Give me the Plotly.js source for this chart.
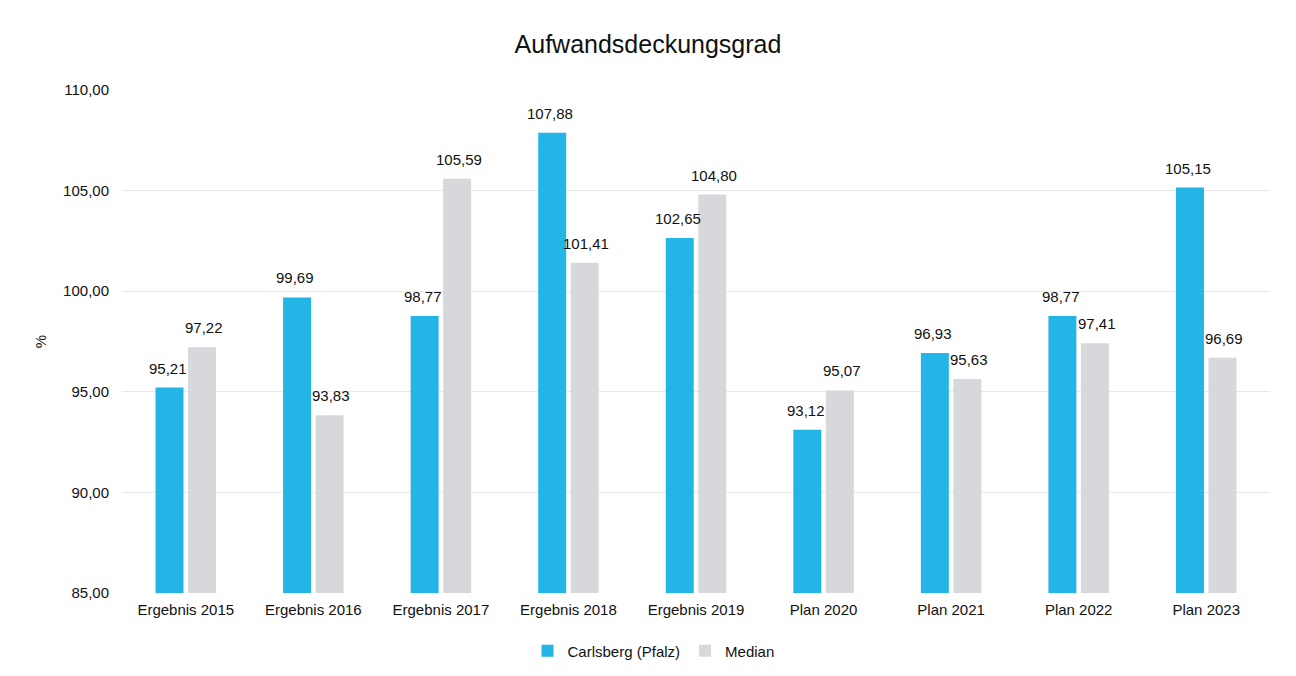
<!DOCTYPE html>
<html><head><meta charset="utf-8">
<script src="https://cdn.plot.ly/plotly-3.0.1.min.js"></script>
<style>html,body{margin:0;padding:0;background:#fff}#c{width:1296px;height:676px}</style>
</head><body><div id="c"></div>
<script>
const categories = ["Ergebnis 2015","Ergebnis 2016","Ergebnis 2017","Ergebnis 2018","Ergebnis 2019","Plan 2020","Plan 2021","Plan 2022","Plan 2023"];
const carlsberg = [95.21, 99.69, 98.77, 107.88, 102.65, 93.12, 96.93, 98.77, 105.15];
const median = [97.22, 93.83, 105.59, 101.41, 104.80, 95.07, 95.63, 97.41, 96.69];
const yTicks = [85, 90, 95, 100, 105, 110];
const fmt = v => v.toFixed(2).replace('.', ',');
const font = {family: 'Liberation Sans, Arial, sans-serif', color: '#111', size: 14};
const traces = [
  {type:'bar', name:'Carlsberg (Pfalz)', x:categories, y:carlsberg, marker:{color:'#22b5e5'}},
  {type:'bar', name:'Median', x:categories, y:median, marker:{color:'#d7d8dc'}}
];
const annotations = [];
categories.forEach((c, i) => {
  annotations.push({x:c, y:carlsberg[i], xref:'x', yref:'y', text:fmt(carlsberg[i]), showarrow:false,
    xshift:-18, yanchor:'bottom', yshift:9, font:{size:15, color:'#111'}});
  annotations.push({x:c, y:median[i], xref:'x', yref:'y', text:fmt(median[i]), showarrow:false,
    xshift:18, yanchor:'bottom', yshift:9, font:{size:15, color:'#111'}});
});
const layout = {
  width:1296, height:676, font:font,
  paper_bgcolor:'#fff', plot_bgcolor:'#fff',
  margin:{l:122, r:26, t:90, b:83, autoexpand:false},
  title:{text:'Aufwandsdeckungsgrad', x:0.5, xanchor:'center', y:0.935, yanchor:'middle', font:{size:25, color:'#111'}},
  barmode:'group', bargap:0.49, bargroupgap:0.14,
  xaxis:{type:'category', showgrid:false, zeroline:false, showline:false, ticks:'', ticklabelstandoff:6, tickfont:{size:15}},
  yaxis:{range:[85,110], tickvals:yTicks, ticktext:yTicks.map(fmt), showgrid:true, gridcolor:'#e8e8e8',
         zeroline:false, showline:false, ticks:'', ticklabelstandoff:12, tickfont:{size:15},
         title:{text:'%', standoff:12, font:{size:15}}},
  showlegend:true,
  legend:{orientation:'h', x:0.463, xanchor:'center', yref:'container', y:0.037, yanchor:'middle', font:{size:15}, traceorder:'normal'},
  annotations:annotations
};
Plotly.newPlot('c', traces, layout, {displayModeBar:false, staticPlot:true});
</script></body></html>
